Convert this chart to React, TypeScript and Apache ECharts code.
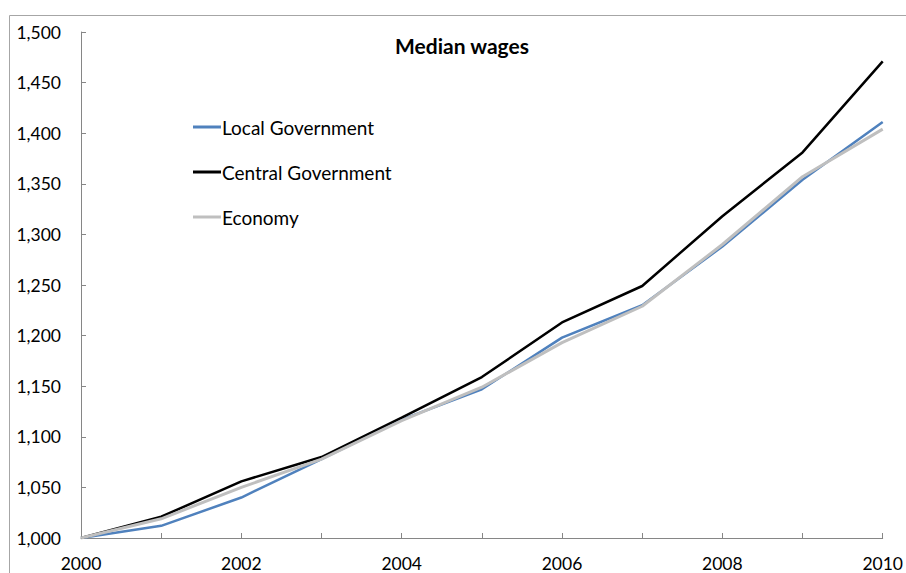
import React, { useEffect, useRef } from "react";
import * as echarts from "echarts";

const years = ["2000", "2001", "2002", "2003", "2004", "2005", "2006", "2007", "2008", "2009", "2010"];
const localGov = [1000, 1012, 1040, 1078, 1117, 1147, 1198, 1230, 1288, 1354, 1411];
const centralGov = [1000, 1021, 1056, 1080, 1119, 1159, 1213, 1249, 1318, 1381, 1471];
const economy = [1000, 1019, 1050, 1078, 1116, 1149, 1193, 1229, 1290, 1357, 1404];

const FONT = "Lato, 'Open Sans', sans-serif";

export default function App() {
  const ref = useRef<HTMLDivElement>(null);
  useEffect(() => {
    if (!ref.current) return;
    const chart = echarts.init(ref.current, null, { renderer: "svg" });
    chart.setOption({
      animation: false,
      backgroundColor: "#ffffff",
      title: {
        text: "Median wages",
        left: 457,
        top: 30,
        textAlign: "center",
        textStyle: { fontFamily: FONT, fontSize: 21, fontWeight: "bold", color: "#000" },
      },
      graphic: [
        {
          type: "rect",
          shape: { x: 9.5, y: 15.5, width: 1000, height: 700 },
          style: { fill: "none", stroke: "#a6a6a6", lineWidth: 1 },
          silent: true,
        },
      ],
      legend: {
        orient: "vertical",
        left: 188,
        top: 111,
        icon: "rect",
        itemWidth: 28,
        itemHeight: 3,
        itemGap: 23,
        textStyle: { fontFamily: FONT, fontSize: 19, color: "#000", lineHeight: 22, padding: [0, 0, 0, -4] },
        data: ["Local Government", "Central Government", "Economy"],
      },
      grid: { left: 81, right: 17, top: 32, bottom: 35, containLabel: false },
      xAxis: {
        type: "category",
        data: years,
        boundaryGap: false,
        axisLine: { lineStyle: { color: "#868686", width: 1 } },
        axisTick: { inside: true, length: 5, interval: 0, lineStyle: { color: "#868686" } },
        axisLabel: { interval: 1, color: "#000", fontFamily: FONT, fontSize: 17.5, margin: 16 },
        splitLine: { show: false },
      },
      yAxis: {
        type: "value",
        min: 1000,
        max: 1500,
        interval: 50,
        axisLine: { show: true, lineStyle: { color: "#868686", width: 1 } },
        axisTick: { show: true, inside: true, length: 5, lineStyle: { color: "#868686" } },
        axisLabel: {
          color: "#000",
          fontFamily: FONT,
          fontSize: 17.5,
          margin: 20,
          formatter: (v: number) => v.toLocaleString("en-US"),
        },
        splitLine: { show: false },
      },
      series: [
        {
          name: "Local Government",
          type: "line",
          data: localGov,
          symbol: "none",
          lineStyle: { color: "#4f81bd", width: 2.5 },
          itemStyle: { color: "#4f81bd" },
        },
        {
          name: "Central Government",
          type: "line",
          data: centralGov,
          symbol: "none",
          lineStyle: { color: "#000000", width: 2.5 },
          itemStyle: { color: "#000000" },
        },
        {
          name: "Economy",
          type: "line",
          data: economy,
          symbol: "none",
          lineStyle: { color: "#bfbfbf", width: 3 },
          itemStyle: { color: "#bfbfbf" },
        },
      ],
    });
    return () => chart.dispose();
  }, []);
  return (
    <div
      ref={ref}
      style={{ position: "fixed", left: 0, top: 0, width: 906, height: 573, background: "#fff" }}
    />
  );
}
